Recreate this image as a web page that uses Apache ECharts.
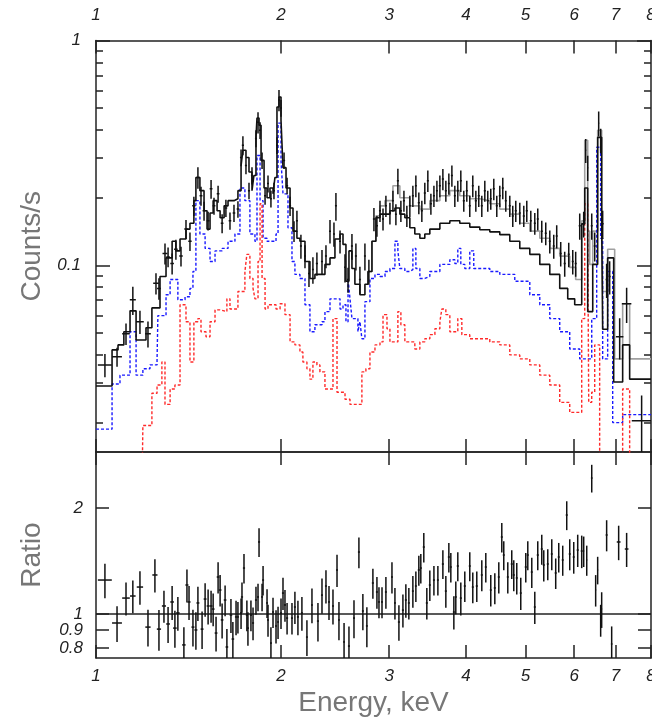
<!DOCTYPE html>
<html><head><meta charset="utf-8">
<script src="https://cdn.jsdelivr.net/npm/echarts@6/dist/echarts.min.js"></script>
<style>html,body{margin:0;padding:0;background:#fff;}#c{width:652px;height:722px;}</style>
</head><body><div id="c"></div>
<script>
// ---------- tick values ----------
const energyTicks = [1, 2, 3, 4, 5, 6, 7, 8];
const countMajorTicks = [0.1, 1];
const countMinorTicks = [0.02, 0.03, 0.04, 0.05, 0.06, 0.07, 0.08, 0.09, 0.2, 0.3, 0.4, 0.5, 0.6, 0.7, 0.8, 0.9];
const ratioTicks = [0.8, 0.9, 1, 2];

// ---------- models (bin start energy keV, counts/s) ----------
const blackModel = [[1.000,0.0291],[1.062,0.0421],[1.086,0.0443],[1.110,0.0507],[1.136,0.0628],[1.162,0.0466],[1.206,0.0528],[1.233,0.0647],[1.271,0.0893],[1.300,0.108],[1.330,0.128],[1.349,0.116],[1.370,0.131],[1.401,0.145],[1.422,0.154],[1.443,0.194],[1.454,0.246],[1.476,0.215],[1.499,0.175],[1.516,0.145],[1.533,0.171],[1.551,0.194],[1.574,0.175],[1.592,0.163],[1.616,0.184],[1.640,0.194],[1.677,0.198],[1.702,0.215],[1.722,0.278],[1.734,0.325],[1.754,0.302],[1.774,0.26],[1.794,0.215],[1.807,0.251],[1.821,0.371],[1.828,0.452],[1.842,0.42],[1.856,0.293],[1.877,0.221],[1.898,0.200],[1.919,0.221],[1.941,0.208],[1.955,0.246],[1.970,0.506],[1.985,0.561],[2.000,0.442],[2.015,0.272],[2.038,0.221],[2.069,0.180],[2.092,0.142],[2.123,0.132],[2.147,0.128],[2.188,0.104],[2.229,0.0875],[2.271,0.0912],[2.314,0.0912],[2.358,0.101],[2.403,0.108],[2.448,0.131],[2.495,0.138],[2.523,0.124],[2.551,0.085],[2.580,0.116],[2.609,0.0968],[2.638,0.0824],[2.688,0.074],[2.739,0.0824],[2.770,0.094],[2.812,0.128],[2.854,0.163],[2.898,0.169],[3.008,0.175],[3.065,0.180],[3.122,0.169],[3.181,0.163],[3.241,0.147],[3.302,0.138],[3.365,0.132],[3.428,0.138],[3.493,0.145],[3.627,0.154],[3.765,0.158],[3.908,0.154],[4.057,0.148],[4.212,0.144],[4.373,0.141],[4.540,0.137],[4.713,0.128],[4.893,0.119],[5.080,0.112],[5.274,0.101],[5.475,0.0912],[5.683,0.079],[5.856,0.071],[6.011,0.0668],[6.171,0.153],[6.241,0.221],[6.311,0.0623],[6.431,0.101],[6.551,0.371],[6.650,0.153],[6.675,0.052],[6.801,0.108],[6.956,0.0303],[7.194,0.0443],[7.385,0.0312],[8.0,0.0312]];
const grayModel = [[2.770,0.094],[2.812,0.128],[2.854,0.166],[2.898,0.184],[2.953,0.194],[3.042,0.226],[3.122,0.200],[3.241,0.184],[3.365,0.178],[3.493,0.194],[3.627,0.204],[3.765,0.215],[3.908,0.204],[4.057,0.198],[4.212,0.194],[4.373,0.188],[4.540,0.178],[4.713,0.169],[4.893,0.154],[5.080,0.142],[5.274,0.132],[5.475,0.119],[5.683,0.110],[5.900,0.098],[6.033,0.0866],[6.171,0.158],[6.241,0.36],[6.311,0.142],[6.359,0.101],[6.431,0.142],[6.551,0.399],[6.650,0.215],[6.675,0.0765],[6.801,0.118],[6.982,0.0384],[7.194,0.0675],[7.385,0.0384],[8.0,0.0384]];
const blueModel = [[1.000,0.0187],[1.062,0.0297],[1.094,0.0325],[1.136,0.0507],[1.162,0.0325],[1.192,0.0347],[1.224,0.0361],[1.257,0.038],[1.261,0.0598],[1.300,0.074],[1.320,0.0866],[1.359,0.0703],[1.396,0.0725],[1.422,0.079],[1.438,0.094],[1.454,0.194],[1.476,0.138],[1.505,0.119],[1.533,0.104],[1.562,0.116],[1.604,0.119],[1.640,0.128],[1.683,0.138],[1.715,0.221],[1.747,0.194],[1.780,0.138],[1.814,0.128],[1.828,0.308],[1.849,0.194],[1.870,0.132],[1.898,0.128],[1.963,0.138],[1.978,0.429],[2.000,0.293],[2.015,0.208],[2.053,0.147],[2.084,0.104],[2.107,0.0912],[2.147,0.0875],[2.188,0.0668],[2.229,0.0507],[2.271,0.0545],[2.332,0.0562],[2.358,0.0623],[2.403,0.071],[2.495,0.064],[2.523,0.0668],[2.551,0.0562],[2.571,0.0875],[2.590,0.071],[2.609,0.058],[2.668,0.0507],[2.688,0.0562],[2.708,0.0472],[2.739,0.069],[2.791,0.0875],[2.844,0.0912],[2.898,0.0893],[2.953,0.094],[3.008,0.0968],[3.065,0.128],[3.099,0.116],[3.122,0.0968],[3.181,0.094],[3.241,0.0958],[3.278,0.119],[3.315,0.0968],[3.365,0.0875],[3.428,0.0893],[3.493,0.094],[3.627,0.101],[3.765,0.106],[3.836,0.102],[3.879,0.119],[3.923,0.101],[3.982,0.0968],[4.057,0.116],[4.118,0.0968],[4.373,0.094],[4.540,0.0912],[4.802,0.085],[5.080,0.074],[5.274,0.0668],[5.475,0.058],[5.683,0.0507],[5.900,0.0425],[6.125,0.0384],[6.407,0.058],[6.527,0.335],[6.625,0.132],[6.675,0.0384],[6.801,0.094],[6.930,0.020],[7.194,0.0217],[8.0,0.0217]];
const redModel = [[1.188,0.01],[1.192,0.0194],[1.233,0.027],[1.257,0.0294],[1.280,0.0372],[1.295,0.0241],[1.320,0.0282],[1.344,0.0294],[1.370,0.0668],[1.401,0.0562],[1.422,0.0372],[1.443,0.0562],[1.465,0.058],[1.482,0.0507],[1.510,0.0482],[1.533,0.0562],[1.562,0.0634],[1.592,0.0623],[1.633,0.071],[1.652,0.064],[1.702,0.0765],[1.747,0.094],[1.760,0.112],[1.780,0.0875],[1.801,0.079],[1.814,0.071],[1.835,0.104],[1.849,0.188],[1.863,0.0875],[1.884,0.064],[1.905,0.0668],[1.963,0.064],[1.993,0.0675],[2.030,0.0604],[2.069,0.0457],[2.107,0.0443],[2.147,0.0412],[2.171,0.0372],[2.204,0.0347],[2.229,0.0312],[2.254,0.0372],[2.288,0.0361],[2.314,0.0336],[2.358,0.0282],[2.430,0.058],[2.467,0.0273],[2.542,0.0254],[2.590,0.0241],[2.708,0.0336],[2.749,0.0347],[2.791,0.0412],[2.844,0.0443],[2.898,0.0457],[2.931,0.0604],[2.975,0.0523],[3.008,0.0457],[3.099,0.0623],[3.134,0.0545],[3.181,0.0457],[3.302,0.0425],[3.365,0.0457],[3.428,0.0472],[3.493,0.0492],[3.560,0.0523],[3.627,0.0562],[3.654,0.064],[3.709,0.0604],[3.765,0.0507],[3.879,0.058],[3.938,0.0492],[4.057,0.0472],[4.373,0.0457],[4.540,0.0443],[4.713,0.040],[4.893,0.0384],[5.080,0.0361],[5.274,0.0325],[5.475,0.0294],[5.683,0.0246],[5.900,0.0222],[6.171,0.058],[6.241,0.188],[6.311,0.142],[6.335,0.0246],[6.407,0.0273],[6.479,0.0443],[6.600,0.01],[7.194,0.0282],[7.385,0.01]];

// ---------- data points [E keV, counts/s, half bin keV, error] ----------
const spectrumPoints = [[1.034,0.0361,0.027,0.0043],[1.082,0.0392,0.020,0.0038],[1.119,0.0497,0.016,0.0054],[1.148,0.0703,0.013,0.0101],[1.179,0.0562,0.017,0.0067],[1.215,0.0497,0.013,0.0066],[1.252,0.0832,0.013,0.0090],[1.266,0.0790,0.009,0.0086],[1.295,0.113,0.012,0.012],[1.310,0.109,0.009,0.011],[1.330,0.102,0.009,0.011],[1.349,0.118,0.009,0.012],[1.375,0.110,0.009,0.011],[1.401,0.145,0.009,0.014],[1.422,0.128,0.009,0.012],[1.443,0.184,0.009,0.018],[1.465,0.246,0.009,0.027],[1.482,0.204,0.008,0.020],[1.499,0.175,0.008,0.017],[1.522,0.158,0.008,0.015],[1.539,0.219,0.008,0.021],[1.556,0.184,0.008,0.016],[1.580,0.208,0.008,0.018],[1.604,0.154,0.008,0.015],[1.627,0.180,0.008,0.016],[1.652,0.158,0.008,0.014],[1.677,0.171,0.008,0.015],[1.702,0.178,0.008,0.015],[1.722,0.302,0.007,0.026],[1.734,0.342,0.007,0.033],[1.754,0.278,0.007,0.024],[1.774,0.215,0.007,0.018],[1.794,0.251,0.007,0.022],[1.821,0.367,0.007,0.032],[1.835,0.433,0.007,0.047],[1.849,0.399,0.007,0.034],[1.863,0.293,0.007,0.025],[1.884,0.204,0.007,0.018],[1.905,0.231,0.007,0.020],[1.926,0.198,0.007,0.017],[1.948,0.215,0.007,0.018],[1.970,0.342,0.007,0.029],[1.985,0.544,0.007,0.059],[2.000,0.501,0.007,0.043],[2.023,0.293,0.008,0.025],[2.046,0.226,0.008,0.019],[2.069,0.184,0.008,0.018],[2.100,0.142,0.008,0.015],[2.123,0.158,0.008,0.017],[2.155,0.122,0.008,0.015],[2.188,0.110,0.008,0.013],[2.221,0.0921,0.008,0.012],[2.254,0.0958,0.008,0.013],[2.288,0.102,0.009,0.012],[2.332,0.104,0.009,0.013],[2.367,0.110,0.009,0.013],[2.403,0.142,0.009,0.017],[2.439,0.138,0.009,0.017],[2.457,0.184,0.009,0.026],[2.495,0.128,0.009,0.015],[2.542,0.098,0.009,0.014],[2.571,0.0866,0.010,0.011],[2.609,0.122,0.010,0.016],[2.648,0.110,0.010,0.015],[2.688,0.0866,0.010,0.012],[2.739,0.110,0.010,0.015],[2.780,0.094,0.010,0.012],[2.833,0.161,0.011,0.019],[2.865,0.150,0.011,0.016],[2.898,0.175,0.011,0.019],[2.931,0.161,0.011,0.018],[2.963,0.184,0.011,0.020],[3.008,0.171,0.011,0.019],[3.042,0.194,0.011,0.021],[3.076,0.169,0.011,0.018],[3.099,0.238,0.012,0.031],[3.134,0.175,0.012,0.019],[3.170,0.194,0.012,0.021],[3.205,0.166,0.012,0.018],[3.241,0.184,0.012,0.020],[3.278,0.204,0.012,0.022],[3.315,0.226,0.012,0.025],[3.352,0.190,0.013,0.021],[3.390,0.175,0.013,0.019],[3.428,0.210,0.013,0.023],[3.467,0.238,0.013,0.026],[3.507,0.188,0.013,0.020],[3.547,0.204,0.013,0.022],[3.587,0.215,0.013,0.023],[3.627,0.226,0.014,0.025],[3.668,0.242,0.014,0.026],[3.709,0.215,0.014,0.023],[3.751,0.231,0.014,0.025],[3.794,0.251,0.014,0.027],[3.836,0.204,0.014,0.022],[3.879,0.215,0.015,0.023],[3.923,0.238,0.015,0.026],[3.967,0.194,0.015,0.021],[4.012,0.215,0.015,0.023],[4.057,0.184,0.015,0.020],[4.103,0.226,0.015,0.025],[4.150,0.194,0.016,0.021],[4.196,0.204,0.016,0.022],[4.244,0.184,0.016,0.020],[4.292,0.215,0.016,0.023],[4.340,0.194,0.016,0.021],[4.389,0.198,0.016,0.021],[4.439,0.219,0.017,0.024],[4.489,0.184,0.017,0.020],[4.540,0.204,0.017,0.022],[4.591,0.221,0.017,0.024],[4.643,0.194,0.017,0.021],[4.713,0.184,0.018,0.020],[4.766,0.166,0.018,0.018],[4.820,0.175,0.018,0.019],[4.893,0.171,0.018,0.019],[4.967,0.166,0.019,0.018],[5.023,0.175,0.019,0.019],[5.099,0.158,0.019,0.017],[5.176,0.154,0.019,0.017],[5.234,0.161,0.020,0.018],[5.313,0.142,0.020,0.016],[5.393,0.139,0.020,0.016],[5.475,0.128,0.020,0.015],[5.557,0.122,0.021,0.015],[5.619,0.135,0.021,0.016],[5.704,0.113,0.021,0.014],[5.790,0.102,0.022,0.013],[5.878,0.112,0.022,0.014],[5.967,0.104,0.022,0.013],[6.033,0.102,0.022,0.013],[6.125,0.150,0.023,0.020],[6.217,0.153,0.023,0.020],[6.264,0.325,0.012,0.040],[6.311,0.272,0.012,0.035],[6.407,0.150,0.023,0.020],[6.479,0.122,0.024,0.018],[6.576,0.429,0.012,0.055],[6.625,0.360,0.012,0.045],[6.675,0.153,0.024,0.022],[6.775,0.0866,0.025,0.015],[6.852,0.0893,0.025,0.015],[7.114,0.0482,0.10,0.010],[7.302,0.0675,0.13,0.012],[7.724,0.0204,0.28,0.006]];

// ---------- ratio points [E keV, ratio, half bin keV, error] ----------
const ratioPoints = [[1.034,1.249,0.027,0.14],[1.082,0.943,0.020,0.11],[1.119,1.110,0.016,0.12],[1.148,1.125,0.012,0.12],[1.179,1.193,0.014,0.13],[1.215,0.918,0.012,0.11],[1.247,1.291,0.012,0.14],[1.266,0.906,0.010,0.12],[1.290,1.054,0.010,0.11],[1.310,0.937,0.009,0.11],[1.330,1.082,0.009,0.12],[1.344,0.912,0.009,0.11],[1.359,1.007,0.009,0.11],[1.390,0.817,0.009,0.10],[1.406,1.209,0.008,0.13],[1.417,1.082,0.008,0.12],[1.438,0.918,0.008,0.11],[1.454,0.901,0.008,0.11],[1.465,1.075,0.008,0.12],[1.488,0.906,0.008,0.11],[1.505,1.103,0.008,0.12],[1.522,1.054,0.008,0.12],[1.539,1.054,0.008,0.11],[1.551,1.033,0.008,0.11],[1.568,0.883,0.008,0.10],[1.580,1.274,0.008,0.13],[1.592,1.170,0.008,0.12],[1.604,0.962,0.008,0.11],[1.622,1.096,0.008,0.11],[1.633,0.806,0.008,0.10],[1.658,0.993,0.008,0.11],[1.670,0.849,0.008,0.10],[1.690,0.981,0.007,0.11],[1.702,0.981,0.007,0.10],[1.722,1.007,0.007,0.10],[1.728,1.118,0.007,0.11],[1.741,1.351,0.007,0.13],[1.760,0.993,0.007,0.10],[1.767,0.912,0.007,0.10],[1.787,0.993,0.007,0.10],[1.801,0.943,0.007,0.10],[1.821,1.096,0.007,0.10],[1.835,1.118,0.007,0.10],[1.842,1.602,0.007,0.15],[1.863,1.118,0.007,0.10],[1.870,1.249,0.007,0.12],[1.898,1.075,0.007,0.10],[1.905,0.962,0.007,0.10],[1.926,0.827,0.007,0.09],[1.941,1.013,0.007,0.10],[1.963,0.925,0.007,0.10],[1.978,0.949,0.007,0.10],[2.000,1.007,0.007,0.10],[2.015,1.147,0.008,0.12],[2.030,1.061,0.008,0.11],[2.046,0.974,0.008,0.10],[2.084,0.974,0.008,0.10],[2.107,1.047,0.008,0.11],[2.131,0.981,0.008,0.11],[2.163,1.007,0.008,0.11],[2.204,0.860,0.008,0.10],[2.246,1.061,0.008,0.12],[2.297,0.955,0.009,0.12],[2.332,1.132,0.009,0.13],[2.367,1.201,0.009,0.13],[2.394,1.082,0.009,0.12],[2.430,1.054,0.009,0.12],[2.467,1.334,0.009,0.14],[2.485,0.962,0.009,0.12],[2.533,0.833,0.009,0.11],[2.580,0.811,0.010,0.11],[2.629,0.974,0.010,0.12],[2.678,1.500,0.010,0.15],[2.718,1.020,0.010,0.12],[2.759,0.925,0.010,0.12],[2.822,1.225,0.011,0.12],[2.865,1.155,0.011,0.12],[2.887,1.082,0.011,0.11],[2.920,1.082,0.011,0.11],[2.963,1.155,0.011,0.12],[3.031,1.274,0.011,0.13],[3.065,1.075,0.011,0.11],[3.111,0.949,0.012,0.11],[3.158,1.026,0.012,0.11],[3.193,1.096,0.012,0.12],[3.229,1.075,0.012,0.11],[3.278,1.162,0.012,0.12],[3.315,1.201,0.012,0.12],[3.352,1.334,0.013,0.13],[3.377,1.351,0.013,0.13],[3.415,1.550,0.013,0.15],[3.454,1.075,0.013,0.11],[3.493,1.209,0.013,0.12],[3.547,1.249,0.013,0.12],[3.600,1.249,0.013,0.12],[3.668,1.387,0.014,0.13],[3.709,1.162,0.014,0.12],[3.751,1.452,0.014,0.14],[3.779,1.360,0.014,0.13],[3.822,1.013,0.014,0.11],[3.850,1.118,0.014,0.12],[3.879,1.369,0.015,0.13],[3.923,1.110,0.015,0.12],[3.982,1.201,0.015,0.12],[4.057,1.369,0.015,0.13],[4.103,1.193,0.015,0.12],[4.165,1.201,0.016,0.12],[4.244,1.291,0.016,0.13],[4.308,1.360,0.016,0.13],[4.389,1.170,0.016,0.12],[4.456,1.186,0.017,0.12],[4.523,1.274,0.017,0.13],[4.574,1.655,0.017,0.16],[4.608,1.471,0.017,0.14],[4.678,1.274,0.017,0.13],[4.748,1.387,0.018,0.13],[4.784,1.291,0.018,0.13],[4.838,1.266,0.018,0.13],[4.911,1.147,0.018,0.12],[5.004,1.360,0.019,0.13],[5.042,1.471,0.019,0.14],[5.118,1.316,0.019,0.13],[5.176,1.047,0.019,0.11],[5.234,1.471,0.020,0.14],[5.313,1.530,0.020,0.15],[5.353,1.378,0.020,0.14],[5.434,1.387,0.020,0.14],[5.516,1.481,0.020,0.15],[5.598,1.308,0.021,0.13],[5.662,1.452,0.021,0.14],[5.747,1.424,0.021,0.14],[5.834,1.911,0.022,0.18],[5.900,1.481,0.022,0.15],[5.989,1.452,0.022,0.15],[6.079,1.520,0.023,0.16],[6.171,1.510,0.023,0.16],[6.217,1.510,0.012,0.15],[6.288,1.424,0.012,0.14],[6.407,2.434,0.020,0.22],[6.502,1.170,0.012,0.12],[6.551,1.334,0.012,0.12],[6.625,0.962,0.012,0.10],[6.650,1.033,0.012,0.12],[6.775,1.677,0.025,0.17],[6.904,0.822,0.020,0.10],[7.087,1.602,0.050,0.18],[7.302,1.530,0.050,0.17]];

const unityLine = [[1, 1], [8, 1]];

// ---------- rendering ----------
const FRAME = '#222';
const TICK_FONT = {fontFamily: 'Liberation Sans', fontStyle: 'italic', fontSize: 17, color: '#222'};
const TITLE_FONT = {fontFamily: 'Liberation Sans', fontSize: 28, color: '#777'};

function errorBars(floor) {
  return function (params, api) {
    const x = api.value(0), y = api.value(1), dx = api.value(2), dy = api.value(3);
    const lo = Math.max(y - dy, floor);
    const v0 = api.coord([x, lo]), v1 = api.coord([x, y + dy]);
    const h0 = api.coord([x - dx, y]), h1 = api.coord([x + dx, y]);
    const cs = params.coordSys;
    const st = {stroke: '#111', lineWidth: 1.5};
    return {
      type: 'group',
      clipPath: {type: 'rect', shape: {x: cs.x, y: cs.y, width: cs.width, height: cs.height}},
      children: [
        {type: 'line', shape: {x1: v0[0], y1: v0[1], x2: v1[0], y2: v1[1]}, style: st},
        {type: 'line', shape: {x1: h0[0], y1: h0[1], x2: h1[0], y2: h1[1]}, style: st}
      ]
    };
  };
}

function xAx(grid, pos, showLabel, extra) {
  return Object.assign({
    type: 'log', logBase: 10, gridIndex: grid, position: pos, min: 1, max: 8,
    axisLine: {show: true, lineStyle: {color: FRAME, width: 1.5}},
    axisTick: {show: true, inside: true, length: 13, customValues: energyTicks, lineStyle: {color: FRAME, width: 1.5}},
    axisLabel: showLabel ? Object.assign({show: true, customValues: energyTicks, margin: pos === 'top' ? 17 : 10,
      formatter: v => String(Math.round(v))}, TICK_FONT) : {show: false},
    splitLine: {show: false}, minorTick: {show: false}
  }, extra || {});
}
function yAx(grid, pos, min, max, ticks, len, showLine, label, extra) {
  return Object.assign({
    type: 'log', logBase: 10, gridIndex: grid, position: pos, min: min, max: max,
    axisLine: {show: showLine, lineStyle: {color: FRAME, width: 1.5}},
    axisTick: {show: true, inside: true, length: len, customValues: ticks, lineStyle: {color: FRAME, width: 1.5}},
    axisLabel: label ? Object.assign({show: true, customValues: ticks, margin: label,
      formatter: v => String(parseFloat(Number(v).toPrecision(3)))}, TICK_FONT) : {show: false},
    splitLine: {show: false}, minorTick: {show: false}
  }, extra || {});
}

const chart = echarts.init(document.getElementById('c'), null, {renderer: 'canvas'});
chart.setOption({
  backgroundColor: '#fff',
  animation: false,
  grid: [
    {left: 96, right: 1, top: 40.5, height: 411.5, containLabel: false, outerBoundsMode: 'none'},
    {left: 96, right: 1, top: 452, height: 206, containLabel: false, outerBoundsMode: 'none'}
  ],
  xAxis: [
    xAx(0, 'bottom', false),
    xAx(0, 'top', true),
    xAx(1, 'bottom', true, {name: 'Energy, keV', nameLocation: 'middle', nameGap: 31, nameTextStyle: TITLE_FONT}),
    xAx(1, 'top', false)
  ],
  yAxis: [
    yAx(0, 'left', 0.0148, 1, countMajorTicks, 14, true, 15,
      {name: 'Counts/s', nameLocation: 'middle', nameGap: 50, nameRotate: 90, nameTextStyle: TITLE_FONT}),
    yAx(0, 'left', 0.0148, 1, countMinorTicks, 7, false, 0),
    yAx(0, 'right', 0.0148, 1, countMajorTicks, 14, true, 0),
    yAx(0, 'right', 0.0148, 1, countMinorTicks, 7, false, 0),
    yAx(1, 'left', 0.75, 2.886, ratioTicks, 13, true, 13,
      {name: 'Ratio', nameLocation: 'middle', nameGap: 50, nameRotate: 90, nameTextStyle: TITLE_FONT}),
    yAx(1, 'right', 0.75, 2.886, ratioTicks, 13, true, 0)
  ],
  series: [
    {type: 'line', name: 'gray', xAxisIndex: 0, yAxisIndex: 0, data: grayModel, step: 'end', symbol: 'none',
      lineStyle: {color: '#a0a0a0', width: 1.6}, z: 2},
    {type: 'line', name: 'blue', xAxisIndex: 0, yAxisIndex: 0, data: blueModel, step: 'end', symbol: 'none',
      lineStyle: {color: '#1a1aff', width: 1.4, type: [3, 2]}, z: 3},
    {type: 'line', name: 'red', xAxisIndex: 0, yAxisIndex: 0, data: redModel, step: 'end', symbol: 'none',
      lineStyle: {color: '#ff2a2a', width: 1.4, type: [3, 2]}, z: 3},
    {type: 'line', name: 'black', xAxisIndex: 0, yAxisIndex: 0, data: blackModel, step: 'end', symbol: 'none',
      lineStyle: {color: '#111', width: 1.6}, z: 4},
    {type: 'custom', name: 'data', xAxisIndex: 0, yAxisIndex: 0, data: spectrumPoints,
      encode: {x: 0, y: 1}, renderItem: errorBars(0.005), z: 5},
    {type: 'line', name: 'unity', xAxisIndex: 2, yAxisIndex: 4, data: unityLine, symbol: 'none',
      lineStyle: {color: '#222', width: 1.4}, z: 3},
    {type: 'custom', name: 'ratio', xAxisIndex: 2, yAxisIndex: 4, data: ratioPoints,
      encode: {x: 0, y: 1}, renderItem: errorBars(0.3), z: 5}
  ]
});
</script>
</body></html>
